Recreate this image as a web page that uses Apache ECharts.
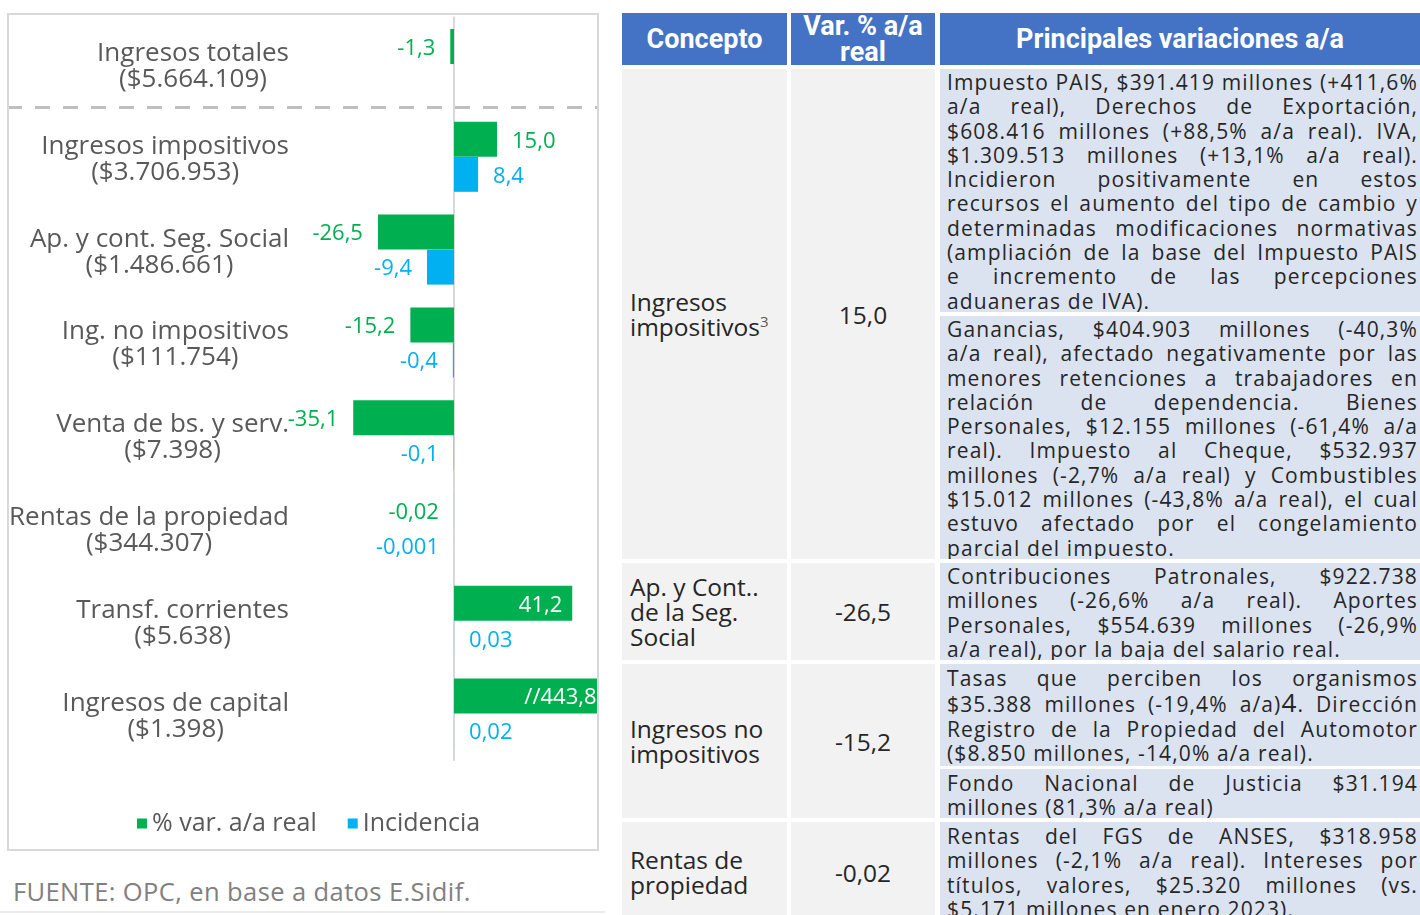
<!DOCTYPE html>
<html><head><meta charset="utf-8">
<script src="https://cdn.jsdelivr.net/npm/echarts@6/dist/echarts.min.js"></script>
<style>
html,body{margin:0;padding:0;background:#fff;width:1420px;height:915px;overflow:hidden;position:relative;}
#chart{position:absolute;left:0;top:0;width:610px;height:860px;}
#box{position:absolute;left:7px;top:13px;width:588px;height:834px;border:2px solid #d9d9d9;pointer-events:none;}
#fuente{position:absolute;left:13px;top:874px;font-family:"Open Sans",sans-serif;font-size:25.5px;letter-spacing:0.4px;color:#808080;line-height:34px;white-space:nowrap;}
#rule{position:absolute;left:0;top:911px;width:605px;height:2px;background:#ececec;}
.c{position:absolute;box-sizing:border-box;overflow:hidden;}
.h{background:#4472c4;color:#fff;font-family:Roboto,sans-serif;font-weight:700;font-size:27px;line-height:26px;display:flex;align-items:center;justify-content:center;text-align:center;}
.g{background:#f2f2f2;color:#262626;font-family:"Open Sans",sans-serif;font-size:24.5px;line-height:25px;display:flex;align-items:center;}
.con{padding-left:8px;}
.var{justify-content:center;}
.b{background:#dbe3f1;color:#262626;font-family:"Open Sans",sans-serif;font-size:21px;line-height:24.3px;padding:1px 2px 0 7px;}
.b div{white-space:nowrap;text-align:justify;text-align-last:justify;}
.b div.e{text-align-last:left;}
sup{font-size:15px;line-height:0;vertical-align:9px;color:#595959;}
#meas{position:absolute;left:-3000px;top:0;white-space:nowrap;font-family:"Open Sans",sans-serif;font-size:21px;}
</style>
</head><body>
<div id="chart"></div>
<div id="box"></div>
<div id="fuente">FUENTE: OPC, en base a datos E.Sidif.</div>
<div id="rule"></div>
<span id="meas"></span>

<div class="c h" style="left:622px;top:13px;width:165px;height:52px;">Concepto</div>
<div class="c h" style="left:791px;top:13px;width:144px;height:52px;">Var. % a/a<br>real</div>
<div class="c h" style="left:940px;top:13px;width:480px;height:52px;">Principales variaciones a/a</div>

<div class="c g con" style="left:622px;top:69px;width:165px;height:490px;"><div>Ingresos<br>impositivos<sup>3</sup></div></div>
<div class="c g var" style="left:791px;top:69px;width:144px;height:490px;">15,0</div>
<div class="c b" style="left:940px;top:69px;width:480px;height:243px;">
<div>Impuesto PAIS, $391.419 millones (+411,6%</div>
<div>a/a real), Derechos de Exportación,</div>
<div>$608.416 millones (+88,5% a/a real). IVA,</div>
<div>$1.309.513 millones (+13,1% a/a real).</div>
<div>Incidieron positivamente en estos</div>
<div>recursos el aumento del tipo de cambio y</div>
<div>determinadas modificaciones normativas</div>
<div>(ampliación de la base del Impuesto PAIS</div>
<div>e incremento de las percepciones</div>
<div class="e">aduaneras de IVA).</div>
</div>
<div class="c b" style="left:940px;top:316px;width:480px;height:243px;">
<div>Ganancias, $404.903 millones (-40,3%</div>
<div>a/a real), afectado negativamente por las</div>
<div>menores retenciones a trabajadores en</div>
<div>relación de dependencia. Bienes</div>
<div>Personales, $12.155 millones (-61,4% a/a</div>
<div>real). Impuesto al Cheque, $532.937</div>
<div>millones (-2,7% a/a real) y Combustibles</div>
<div>$15.012 millones (-43,8% a/a real), el cual</div>
<div>estuvo afectado por el congelamiento</div>
<div class="e">parcial del impuesto.</div>
</div>

<div class="c g con" style="left:622px;top:563px;width:165px;height:97px;"><div>Ap. y Cont..<br>de la Seg.<br>Social</div></div>
<div class="c g var" style="left:791px;top:563px;width:144px;height:97px;">-26,5</div>
<div class="c b" style="left:940px;top:563px;width:480px;height:97px;">
<div>Contribuciones Patronales, $922.738</div>
<div>millones (-26,6% a/a real). Aportes</div>
<div>Personales, $554.639 millones (-26,9%</div>
<div class="e">a/a real), por la baja del salario real.</div>
</div>

<div class="c g con" style="left:622px;top:664px;width:165px;height:154px;"><div>Ingresos no<br>impositivos</div></div>
<div class="c g var" style="left:791px;top:664px;width:144px;height:154px;">-15,2</div>
<div class="c b" style="left:940px;top:664px;width:480px;height:102px;padding-top:2px;">
<div>Tasas que perciben los organismos</div>
<div style="margin-top:2px;">$35.388 millones (-19,4% a/a)<span style="font-size:26px;line-height:0;">4</span>. Dirección</div>
<div>Registro de la Propiedad del Automotor</div>
<div class="e">($8.850 millones, -14,0% a/a real).</div>
</div>
<div class="c b" style="left:940px;top:769px;width:480px;height:49px;padding-top:2px;">
<div>Fondo Nacional de Justicia $31.194</div>
<div class="e">millones (81,3% a/a real)</div>
</div>

<div class="c g con" style="left:622px;top:822px;width:165px;height:100px;"><div>Rentas de<br>propiedad</div></div>
<div class="c g var" style="left:791px;top:822px;width:144px;height:100px;">-0,02</div>
<div class="c b" style="left:940px;top:822px;width:480px;height:100px;padding-top:2px;">
<div>Rentas del FGS de ANSES, $318.958</div>
<div>millones (-2,1% a/a real). Intereses por</div>
<div>títulos, valores, $25.320 millones (vs.</div>
<div class="e">$5.171 millones en enero 2023).</div>
</div>

<script>
// ---- chart data ----
const conceptos = ['Ingresos totales', 'Ingresos impositivos', 'Ap. y cont. Seg. Social', 'Ing. no impositivos', 'Venta de bs. y serv.', 'Rentas de la propiedad', 'Transf. corrientes', 'Ingresos de capital'];
const montos = ['($5.664.109)', '($3.706.953)', '($1.486.661)', '($111.754)', '($7.398)', '($344.307)', '($5.638)', '($1.398)'];
const varReal = [-1.3, 15.0, -26.5, -15.2, -35.1, -0.02, 41.2, 443.8];
const varRealLabels = ['-1,3', '15,0', '-26,5', '-15,2', '-35,1', '-0,02', '41,2', '//443,8'];
const incidencia = [null, 8.4, -9.4, -0.4, -0.1, -0.001, 0.03, 0.02];
const incidenciaLabels = ['', '8,4', '-9,4', '-0,4', '-0,1', '-0,001', '0,03', '0,02'];
const seriesNames = ['% var. a/a real', 'Incidencia'];

// ---- fit table text: common letter-spacing so the tightest justified line fills the cell ----
(function () {
  const meas = document.getElementById('meas');
  const avail = 471;
  let ls = Infinity;
  document.querySelectorAll('.b div:not(.e)').forEach(d => {
    if (d.querySelector('span')) return;
    const t = d.textContent.replace(/\s+/g, ' ').trim();
    meas.textContent = t;
    const w = meas.getBoundingClientRect().width;
    ls = Math.min(ls, (avail - w) / t.length);
  });
  if (isFinite(ls)) document.querySelectorAll('.b').forEach(b => b.style.letterSpacing = ls.toFixed(3) + 'px');
})();

const FONT = '"Open Sans", sans-serif';
const GREEN = '#00b050', BLUE = '#00b0f0';
const X_MIN = -54, X_MAX = 50;

function makeData(vals, labels, color) {
  return vals.map((v, i) => {
    if (v === null) return { value: null };
    const inside = v > X_MAX * 0.6;
    return {
      value: v,
      label: {
        show: true,
        formatter: labels[i],
        position: inside ? 'insideRight' : (v < 0 ? 'left' : 'right'),
        color: inside ? '#ffffff' : color,
        distance: inside ? (v > X_MAX ? 1 : 10) : 15
      }
    };
  });
}

const chart = echarts.init(document.getElementById('chart'), null, { renderer: 'canvas' });
chart.setOption({
  animation: false,
  backgroundColor: 'transparent',
  textStyle: { fontFamily: FONT },
  grid: { left: 299, top: 17.6, width: 298.5, height: 742.4, outerBoundsMode: 'none', containLabel: false },
  xAxis: {
    type: 'value', min: X_MIN, max: X_MAX, show: false,
    splitLine: { show: false }
  },
  yAxis: {
    type: 'category', inverse: true, data: conceptos,
    axisLine: { show: true, onZero: true, lineStyle: { color: '#d9d9d9', width: 2 } },
    axisTick: { show: false },
    splitLine: { show: false },
    axisLabel: {
      interval: 0, margin: 10, padding: [5, 0, 0, 0],
      formatter: (v, i) => '{c|' + conceptos[i] + '}\n{c|' + montos[i] + '}',
      rich: { c: { align: 'center', fontSize: 26, lineHeight: 26, color: '#595959', fontFamily: FONT } }
    }
  },
  legend: {
    data: seriesNames, left: 132, top: 806, icon: 'rect', itemWidth: 10, itemHeight: 10, itemGap: 31,
    textStyle: { fontSize: 25, color: '#595959', fontFamily: FONT }
  },
  series: [
    { name: seriesNames[0], type: 'bar', barWidth: 35, barGap: '0%', itemStyle: { color: GREEN },
      label: { fontSize: 22, fontFamily: FONT, offset: [0, 2] }, data: makeData(varReal, varRealLabels, GREEN) },
    { name: seriesNames[1], type: 'bar', barWidth: 35, barGap: '0%', itemStyle: { color: BLUE },
      label: { fontSize: 22, fontFamily: FONT, offset: [0, 2] }, data: makeData(incidencia, incidenciaLabels, BLUE) }
  ]
});

const yA = chart.convertToPixel({ yAxisIndex: 0 }, conceptos[0]);
const yB = chart.convertToPixel({ yAxisIndex: 0 }, conceptos[1]);
const yd = (yA + yB) / 2 - 3;
chart.setOption({
  graphic: [{ type: 'line', z: 0, silent: true,
    shape: { x1: 7, y1: yd, x2: 599, y2: yd },
    style: { stroke: '#bfbfbf', lineWidth: 3, lineDash: [15, 13] } }]
});
</script>
</body></html>
